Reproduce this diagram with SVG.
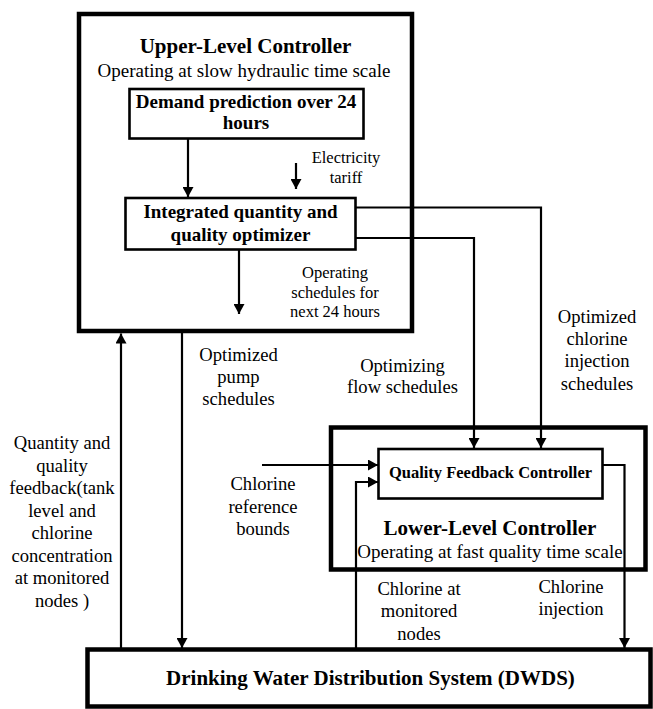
<svg xmlns="http://www.w3.org/2000/svg" width="653" height="709" viewBox="0 0 653 709" font-family="Liberation Serif, Tinos, DejaVu Serif, serif">
<style>
.outer{fill:none;stroke:#000;stroke-width:4.5}
.inner{fill:#fff;stroke:#000;stroke-width:2.6}
.ln{fill:none;stroke:#000;stroke-width:2.2}
text{font-family:'Liberation Serif','DejaVu Serif',serif;fill:#000;text-anchor:middle}
.b{font-weight:bold}
.t21{font-size:21px}
.t19{font-size:19px}
.t18{font-size:18.6px}
.t16{font-size:16.5px}
</style>
<defs>
<marker id="ah" markerUnits="userSpaceOnUse" markerWidth="11" markerHeight="11" refX="10" refY="5.5" orient="auto" viewBox="0 0 11 11">
<path d="M0,0 L10,5.5 L0,11 z" fill="#000"/>
</marker>
</defs>
<rect width="653" height="709" fill="#fff"/>
<g id="upper-controller">
<rect class="outer" x="79" y="14" width="333" height="317"/>
<text class="b t21" x="245.5" y="53">Upper-Level Controller</text>
<text class="t19" x="244" y="77">Operating at slow hydraulic time scale</text>
</g>
<g id="demand-prediction">
<rect class="inner" x="129.5" y="89" width="234" height="49.5"/>
<text class="b t19" x="246" y="108">Demand prediction over 24</text>
<text class="b t19" x="246" y="129">hours</text>
</g>
<g id="optimizer">
<rect class="inner" x="125.5" y="198" width="230" height="51.5"/>
<text class="b t19" x="240.5" y="218">Integrated quantity and</text>
<text class="b t19" x="240.5" y="241">quality optimizer</text>
</g>
<g id="lower-controller">
<rect class="outer" x="331" y="427.5" width="314.5" height="142"/>
<text class="b t21" x="490" y="535">Lower-Level Controller</text>
<text class="t19" x="490" y="558">Operating at fast quality time scale</text>
</g>
<g id="quality-feedback-controller">
<rect class="inner" x="378.5" y="449" width="224" height="49.5"/>
<text class="b" style="font-size:16.5px" x="490.5" y="478">Quality Feedback Controller</text>
</g>
<g id="dwds">
<rect class="outer" x="87.5" y="649.5" width="563" height="57"/>
<text class="b t21" x="370.5" y="685">Drinking Water Distribution System (DWDS)</text>
</g>
<g id="connectors">
<path class="ln" d="M188,138.5 V197" marker-end="url(#ah)"/>
<path class="ln" d="M296,163 V189" marker-end="url(#ah)"/>
<path class="ln" d="M239,249.5 V314" marker-end="url(#ah)"/>
<path class="ln" d="M355.5,207.5 H541 V448" marker-end="url(#ah)"/>
<path class="ln" d="M355.5,238 H474 V448" marker-end="url(#ah)"/>
<path class="ln" d="M262,465 H378" marker-end="url(#ah)"/>
<path class="ln" d="M356,648 V482 H378" marker-end="url(#ah)"/>
<path class="ln" d="M602.5,465 H624.5 V648" marker-end="url(#ah)"/>
<path class="ln" d="M182,333 V648" marker-end="url(#ah)"/>
<path class="ln" d="M121,648 V333.5" marker-end="url(#ah)"/>
</g>
<g id="labels">
<text class="t16" x="346" y="163">Electricity</text>
<text class="t16" x="346" y="183">tariff</text>
<text class="t16" x="335" y="278">Operating</text>
<text class="t16" x="335" y="298">schedules for</text>
<text class="t16" x="335" y="317">next 24 hours</text>
<text class="t18" x="238.5" y="361">Optimized</text>
<text class="t18" x="238.5" y="383">pump</text>
<text class="t18" x="238.5" y="405">schedules</text>
<text class="t18" x="402.5" y="372">Optimizing</text>
<text class="t18" x="402.5" y="393">flow schedules</text>
<text class="t18" x="597" y="323">Optimized</text>
<text class="t18" x="597" y="345">chlorine</text>
<text class="t18" x="597" y="367">injection</text>
<text class="t18" x="597" y="390">schedules</text>
<text class="t18" x="62" y="449">Quantity and</text>
<text class="t18" x="62" y="471.5">quality</text>
<text class="t18" x="62" y="494">feedback(tank</text>
<text class="t18" x="62" y="516.5">level and</text>
<text class="t18" x="62" y="539">chlorine</text>
<text class="t18" x="62" y="561.5">concentration</text>
<text class="t18" x="62" y="584">at monitored</text>
<text class="t18" x="62" y="606.5">nodes )</text>
<text class="t18" x="263" y="490">Chlorine</text>
<text class="t18" x="263" y="513">reference</text>
<text class="t18" x="263" y="535">bounds</text>
<text class="t18" x="419" y="595">Chlorine at</text>
<text class="t18" x="419" y="617">monitored</text>
<text class="t18" x="419" y="640">nodes</text>
<text class="t18" x="571" y="593">Chlorine</text>
<text class="t18" x="571" y="615">injection</text>
</g>
</svg>
